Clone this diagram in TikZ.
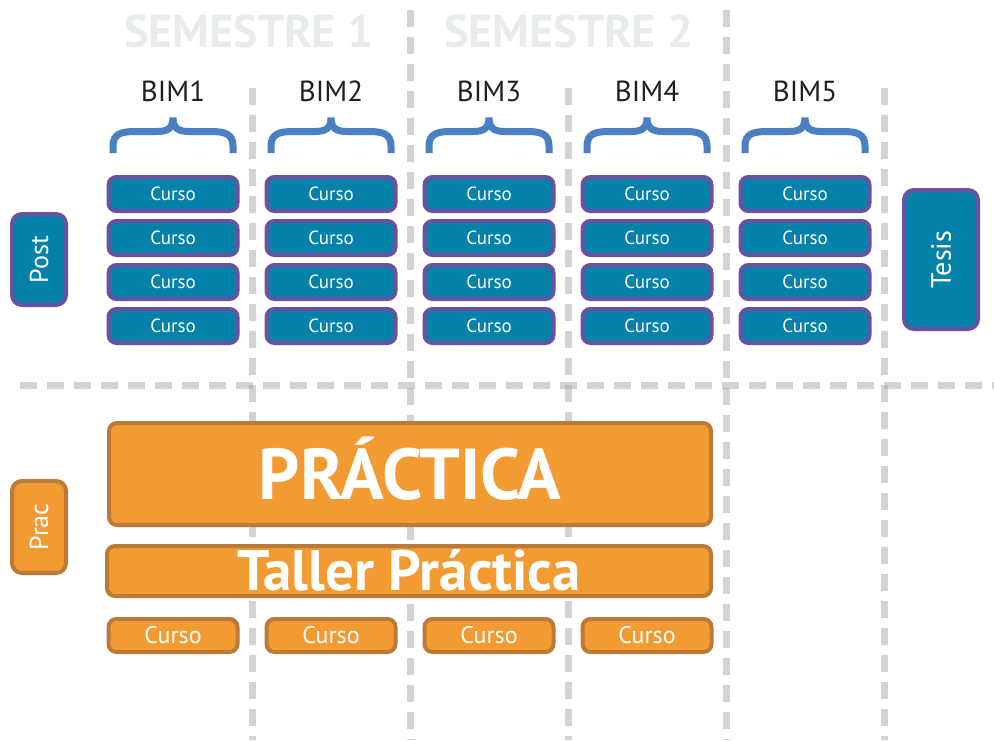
\documentclass[tikz,border=0pt]{standalone}
\usepackage{fontspec}
\setmainfont{PT Sans}
\usetikzlibrary{positioning}
\definecolor{cursoblue}{HTML}{0482AA}
\definecolor{cursoline}{HTML}{6A52A2}
\definecolor{pracfill}{HTML}{F39B33}
\definecolor{pracline}{HTML}{BB7B36}
\definecolor{bracecolor}{HTML}{4A7FC2}
\definecolor{gridgray}{HTML}{A4A7AA}
\definecolor{semgray}{HTML}{E9ECED}
\definecolor{bimtext}{HTML}{231F20}

\begin{document}
\begin{tikzpicture}[x=1pt,y=-1pt,
    every node/.style={inner sep=0pt,text depth=0pt},
    grid line/.style={gridgray,opacity=0.5,line width=7pt,dash pattern=on 17pt off 10pt},
    brace line/.style={bracecolor,line width=7pt},
    sem node/.style={text=semgray,font=\bfseries\fontsize{46}{46}\selectfont,text height=32.2pt},
    bim node/.style={text=bimtext,font=\fontsize{29}{29}\selectfont,text height=20.3pt},
    curso node/.style={rectangle,rounded corners=8pt,draw=cursoline,fill=cursoblue,line width=4pt,
        minimum width=129pt,minimum height=34pt,text=white,font=\fontsize{19}{19}\selectfont,
        text height=13.3pt},
    side node/.style={rectangle,rounded corners=10pt,line width=4pt,rotate=90,minimum height=54pt,
        text=white,font=\fontsize{26}{26}\selectfont,text height=18.2pt},
    prac node/.style={rectangle,rounded corners=8pt,draw=pracline,fill=pracfill,line width=4pt,text=white},
    pcurso node/.style={prac node,minimum width=129pt,minimum height=33pt,font=\fontsize{24}{24}\selectfont,
        text height=16.8pt}]

  \useasboundingbox (0,0) rectangle (994,740);

  % grid
  \foreach \x in {410,726}
    \draw[grid line] (\x,10) -- (\x,740);
  \foreach \x in {252,568,884}
    \draw[grid line] (\x,88) -- (\x,740);
  \draw[grid line] (20,385) -- (994,385);

  \node[sem node] (sem1) at (249,31) {SEMESTRE 1};
  \node[sem node] (sem2) at (569,31) {SEMESTRE 2};

  % bimestres
  \foreach \i/\x in {1/173,2/331,3/489,4/647,5/805} {
    \node[bim node] (bim\i) at (\x,91.5) {BIM\i};
    \draw[brace line] (\x-60,153) -- (\x-60,146)
      .. controls (\x-60,134) and (\x-52,131.5) .. (\x-38,131.5) -- (\x-16,131.5)
      .. controls (\x-5,131.5) and (\x,128) .. (\x,117.5)
      .. controls (\x,128) and (\x+5,131.5) .. (\x+16,131.5) -- (\x+38,131.5)
      .. controls (\x+52,131.5) and (\x+60,134) .. (\x+60,146) -- (\x+60,153);
    \foreach \j/\y in {1/194,2/238,3/282,4/326}
      \node[curso node] (c\i\j) at (\x,\y) {Curso};
  }

  \node[side node,draw=cursoline,fill=cursoblue,minimum width=91pt] (post) at (39,259.5) {Post};
  \node[side node,draw=cursoline,fill=cursoblue,minimum width=139pt,minimum height=74pt,
        font=\fontsize{28}{28}\selectfont,text height=19.6pt] (tesis) at (941,259.5) {Tesis};

  % practica
  \node[side node,draw=pracline,fill=pracfill,minimum width=92pt] (prac) at (39,527) {Prac};
  \node[prac node,minimum width=602pt,minimum height=102pt,
        font=\bfseries\fontsize{72}{72}\selectfont,text height=50.4pt] (practica) at (410,474) {PRÁCTICA};
  \node[prac node,minimum width=604pt,minimum height=50pt,
        font=\bfseries\fontsize{57}{57}\selectfont,text height=39.9pt] (taller) at (409,571) {Taller Práctica};
  \foreach \i/\x in {1/173,2/331,3/489,4/647}
    \node[pcurso node] (p\i) at (\x,635.5) {Curso};

\end{tikzpicture}
\end{document}
